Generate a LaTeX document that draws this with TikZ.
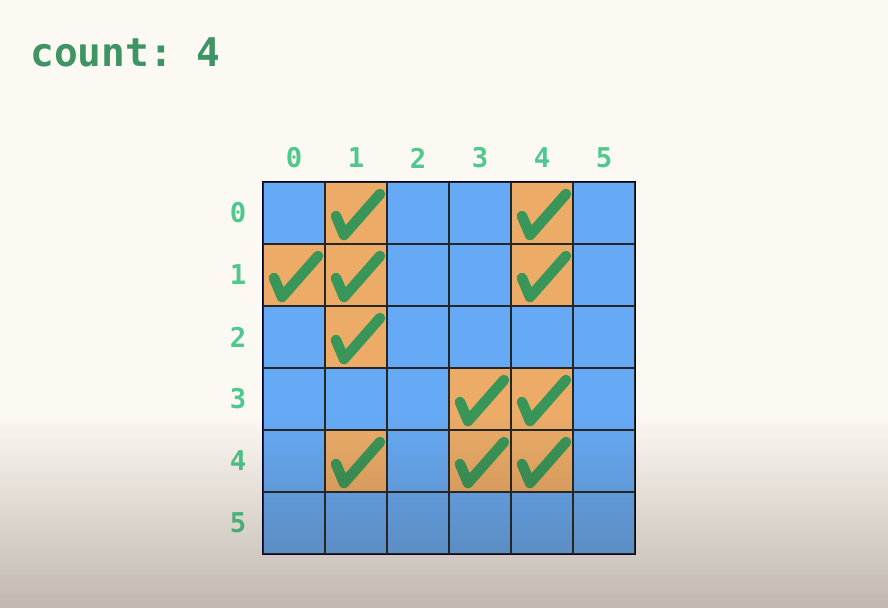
\documentclass[tikz,border=0pt]{standalone}
\usepackage{fontspec}
\setmonofont{DejaVu Sans Mono}
\usetikzlibrary{fadings}

\definecolor{paper}{RGB}{252,248,242}
\definecolor{cellblue}{RGB}{102,170,245}
\definecolor{cellorange}{RGB}{236,172,104}
\definecolor{tickgreen}{RGB}{58,150,88}
\definecolor{labelgreen}{RGB}{78,200,140}
\definecolor{countgreen}{RGB}{62,148,98}

\begin{document}
\begin{tikzpicture}[x=0.02cm, y=-0.02cm,
    cell/.style={draw=black!85, line width=0.7pt, minimum size=1.24cm, inner sep=0pt, fill=cellblue},
    visited/.style={cell, fill=cellorange},
    idx/.style={font=\ttfamily\bfseries\fontsize{15.5}{17}\selectfont, text=labelgreen},
    tickmark/.style={draw=tickgreen, line width=6pt, line cap=round, line join=round}
  ]
  \fill[paper] (0,0) rectangle (888,608);
  \useasboundingbox (0,0) rectangle (888,608);

  \node[anchor=base west, inner sep=0pt, text=countgreen, font=\ttfamily\bfseries\fontsize{22.5}{24}\selectfont] (count) at (30,67) {count: 4};

  % grid
  \foreach \r in {0,...,5}
    \foreach \c in {0,...,5}
      \node[cell] (c-\r-\c) at ({294+62*\c},{213+62*\r}) {};

  % visited cells
  \foreach \r/\c in {0/1,0/4,1/0,1/1,1/4,2/1,3/3,3/4,4/1,4/3,4/4} {
    \node[visited] (v-\r-\c) at (c-\r-\c) {};
    \draw[tickmark] ([shift={(-20,3)}]v-\r-\c.center) -- ([shift={(-12,22)}]v-\r-\c.center) -- ([shift={(24,-19)}]v-\r-\c.center);
  }
  \draw[line width=1pt, draw=black!80!blue] (c-0-0.north west) rectangle (c-5-5.south east);

  % indices
  \foreach \i in {0,...,5} {
    \node[idx] (col-\i) at ({294+62*\i},158) {\i};
    \node[idx] (row-\i) at (238,{213+62*\i}) {\i};
  }

  % shadow at the bottom
  \fill[black!70!brown, opacity=0.3, path fading=north] (0,415) rectangle (888,608);
\end{tikzpicture}
\end{document}
